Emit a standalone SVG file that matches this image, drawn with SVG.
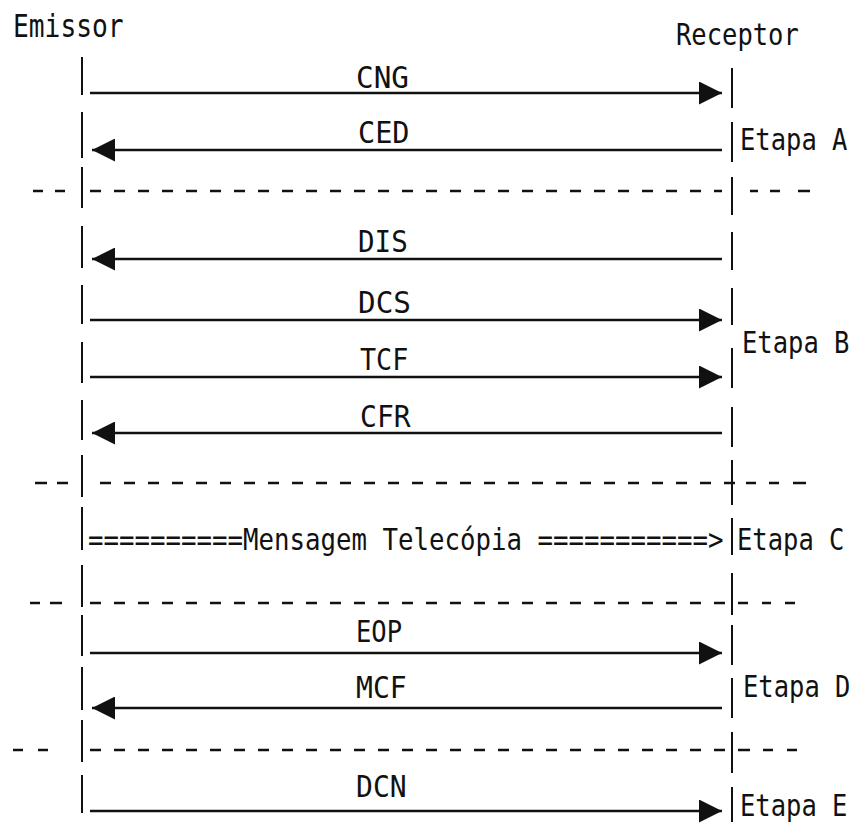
<svg xmlns="http://www.w3.org/2000/svg" width="852" height="825" viewBox="0 0 852 825">
<style>
text{font-family:"DejaVu Sans Mono","Liberation Mono",monospace;font-size:25.5px;fill:#111;}
.life{stroke:#111;stroke-width:2;fill:none;}
.msg{stroke:#111;stroke-width:2.6;fill:none;}
.dash{stroke:#111;stroke-width:2.5;fill:none;stroke-dasharray:11 13;}
.sdash{stroke:#111;stroke-width:2.5;fill:none;}
</style>
<defs>
<marker id="ah" markerUnits="userSpaceOnUse" markerWidth="23" markerHeight="23" refX="23" refY="11.5" orient="auto">
<path d="M0,0 L23,11.5 L0,23 z" fill="#111"/>
</marker>
</defs>
<rect width="852" height="825" fill="#fff"/>
<g id="emissor">
<text transform="translate(13,37) scale(1.03,1.25)">Emissor</text>
<path class="life" d="M82,57V95M82,112V158M82,167V208M82,226V268M82,285V324M82,342V383M82,400V440M82,455V497M82,507V550M82,565V607M82,615V656M82,667V710M82,720V762M82,775V813"/>
</g>
<g id="receptor">
<text transform="translate(676,45) scale(1,1.17)">Receptor</text>
<path class="life" d="M732,68V108M732,122V162M732,177V215M732,232V270M732,288V325M732,348V388M732,407V447M732,460V505M732,518V555M732,573V615M732,625V665M732,678V718M732,732V773M732,787V822"/>
</g>
<g id="etapas">
<text transform="translate(740,150) scale(1,1.17)">Etapa A</text>
<text transform="translate(742,353) scale(1,1.17)">Etapa B</text>
<text transform="translate(737,550) scale(1,1.17)">Etapa C</text>
<text transform="translate(743,697) scale(1,1.17)">Etapa D</text>
<text transform="translate(740,816) scale(1,1.17)">Etapa E</text>
</g>
<g id="separadores">
<path class="dash" d="M90,191H722M100,483H735M90,603H728M90,750H728"/>
<path class="sdash" d="M33,191H43M55,191H65M750,191H758M770,191H780M798,191H810M35,483H47M57,483H68M746,483H756M769,483H779M793,483H806M30,603H40M50,603H62M738,603H748M762,603H771M785,603H795M13,750H23M38,750H48M738,750H750M763,750H773M787,750H797"/>
</g>
<g id="connectors">
<line class="msg" x1="90" y1="93" x2="722" y2="93" marker-end="url(#ah)"/>
<line class="msg" x1="722" y1="150" x2="92" y2="150" marker-end="url(#ah)"/>
<line class="msg" x1="722" y1="259" x2="92" y2="259" marker-end="url(#ah)"/>
<line class="msg" x1="90" y1="320" x2="722" y2="320" marker-end="url(#ah)"/>
<line class="msg" x1="90" y1="377" x2="722" y2="377" marker-end="url(#ah)"/>
<line class="msg" x1="722" y1="433" x2="92" y2="433" marker-end="url(#ah)"/>
<line class="msg" x1="90" y1="653" x2="722" y2="653" marker-end="url(#ah)"/>
<line class="msg" x1="722" y1="708" x2="92" y2="708" marker-end="url(#ah)"/>
<line class="msg" x1="90" y1="811" x2="722" y2="811" marker-end="url(#ah)"/>
</g>
<g id="labels">
<text transform="translate(356,88) scale(1.15,1.17)">CNG</text>
<text transform="translate(358,143) scale(1.12,1.17)">CED</text>
<text transform="translate(358,252) scale(1.08,1.17)">DIS</text>
<text transform="translate(358,313) scale(1.15,1.17)">DCS</text>
<text transform="translate(360,370) scale(1.05,1.17)">TCF</text>
<text transform="translate(360,427) scale(1.1,1.17)">CFR</text>
<text transform="translate(88,550) scale(1.01,1.17)">==========Mensagem Telecópia ===========&gt;</text>
<text transform="translate(356,642) scale(1,1.17)">EOP</text>
<text transform="translate(356,698) scale(1.1,1.17)">MCF</text>
<text transform="translate(356,797) scale(1.1,1.17)">DCN</text>
</g>
</svg>
